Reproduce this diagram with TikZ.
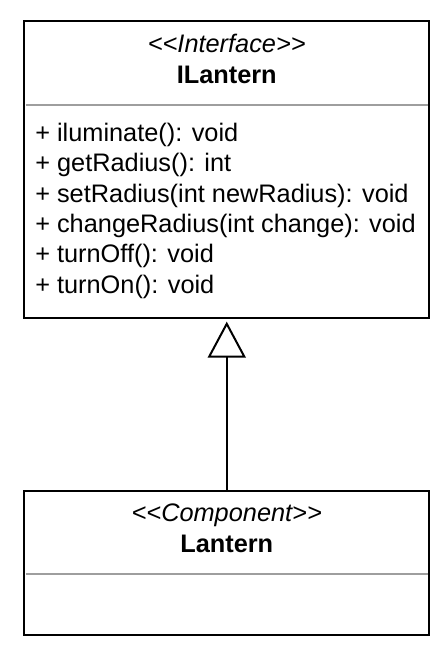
\documentclass[tikz,border=0pt]{standalone}
\usepackage{fontspec}
\setmainfont{Liberation Sans}[Ligatures=TeXOff]
\usetikzlibrary{arrows.meta}
\tikzset{
  classbox/.style={draw, line width=1.5pt, minimum width=303.4pt, inner sep=0pt},
  sep/.style={draw=black!38, line width=0.9pt},
  stereo/.style={anchor=base, inner sep=0pt, font=\fontsize{19}{22.7}\selectfont\itshape},
  cname/.style={anchor=base, inner sep=0pt, font=\fontsize{19}{22.7}\selectfont\bfseries},
  method/.style={anchor=base west, inner sep=0pt, font=\fontsize{19}{22.7}\selectfont},
  realize/.style={line width=1.5pt, -{Triangle[open,width=28.5pt,length=27pt]}, shorten >=2pt}
}
\begin{document}
\begin{tikzpicture}[x=0.75pt,y=0.75pt]
\useasboundingbox (0,0) rectangle (447,659);
\node[classbox, minimum height=222.75pt] (ilantern) at (226.75,489.5) {};
\node[classbox, minimum height=108pt] (lantern) at (226.75,96) {};
\draw[sep] (25.5,554) -- (428,554);
\draw[sep] (25.5,85) -- (428,85);

\node[stereo] (ilantern-st) at (226.75,606.3) {<<Interface>>};
\node[cname] (ilantern-name) at (226.75,575) {ILantern};
\node[method] (m1) at (35,517.3) {+ iluminate(): void};
\node[method] (m2) at (35,487) {+ getRadius(): int};
\node[method] (m3) at (35,456.7) {+ setRadius(int newRadius): void};
\node[method] (m4) at (35,426.4) {+ changeRadius(int change): void};
\node[method] (m5) at (35,396.1) {+ turnOff(): void};
\node[method] (m6) at (35,365.8) {+ turnOn(): void};

\node[stereo] (lantern-st) at (226.75,137) {<<Component>>};
\node[cname] (lantern-name) at (226.75,106) {Lantern};

\draw[realize] (lantern.north) -- (ilantern.south);
\end{tikzpicture}
\end{document}
